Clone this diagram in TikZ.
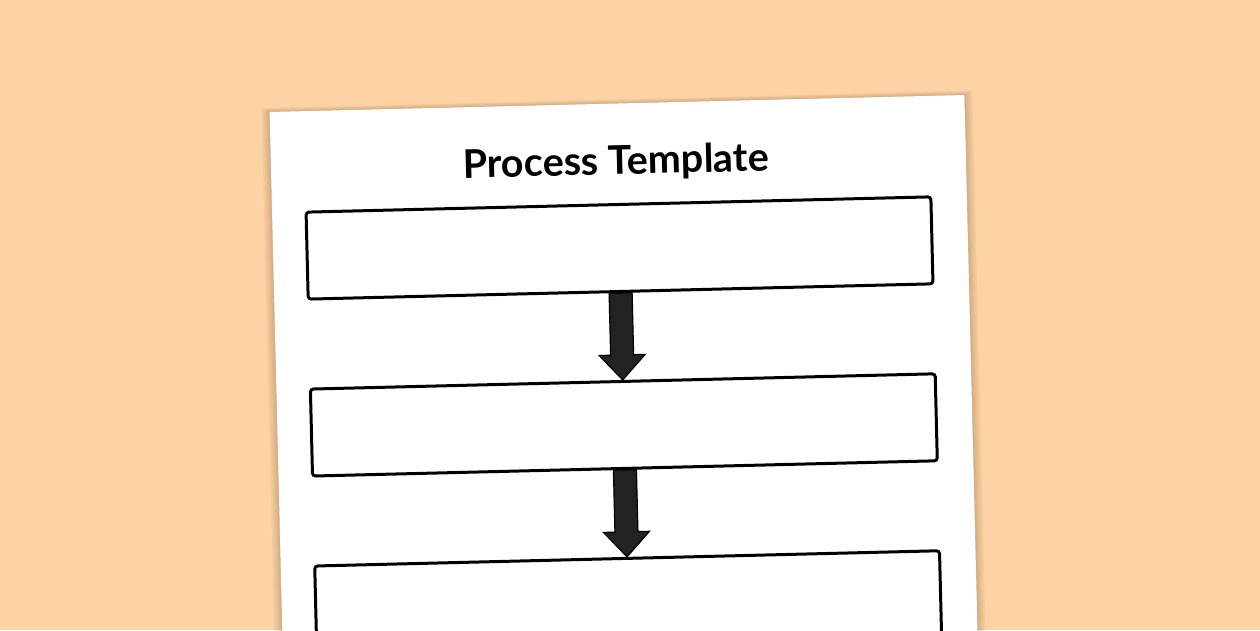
\documentclass[tikz,border=0pt]{standalone}
\usepackage{fontspec}
\setmainfont{Lato}
\usepackage{tikz}
\usetikzlibrary{calc}
\definecolor{peach}{HTML}{FDD2A4}
\definecolor{shadowbrown}{HTML}{8A6A48}
\definecolor{arrowgray}{HTML}{222222}

\begin{document}
\begin{tikzpicture}[x=1pt,y=-1pt,
  stepbox/.style={draw=black,line width=3pt,rounded corners=3pt,fill=white,
    minimum width=625pt,minimum height=87pt,inner sep=0pt},
  flow/.style={draw=black,line width=1.2pt,fill=arrowgray,line join=miter}]
\useasboundingbox (0,0) rectangle (1260,630);
\clip (0,0) rectangle (1260,630);
\fill [peach] (0,0) rectangle (1260,630);

\begin{scope}[rotate around={1.4:(620,370)},transform shape]
% the sheet with a soft shadow
\foreach \s in {8,6,4,2.5,1.2} {
\fill [shadowbrown,opacity=0.08] (276-\s,103.5-0.5*\s) rectangle (971+\s,1000);
}
\fill [white] (276,103.5) rectangle (971,1000);

\node (title) at (621,163) {\fontsize{39.5}{47}\selectfont\bfseries Process Template};

\node [stepbox] (first) at (622.5,248) {};
\node [stepbox] (second) at (622.5,425) {};
\node [stepbox] (third) at (622.5,602) {};

\foreach \a/\b in {first/second,second/third} {
\draw [flow] (\a.south) ++(-11.5,0) -- ++(0,62) -- ++(-11.5,0) -- (\b.north)
  -- ++(23,-25) -- ++(-11.5,0) -- ++(0,-62) -- cycle;
}
\end{scope}
\end{tikzpicture}
\end{document}
